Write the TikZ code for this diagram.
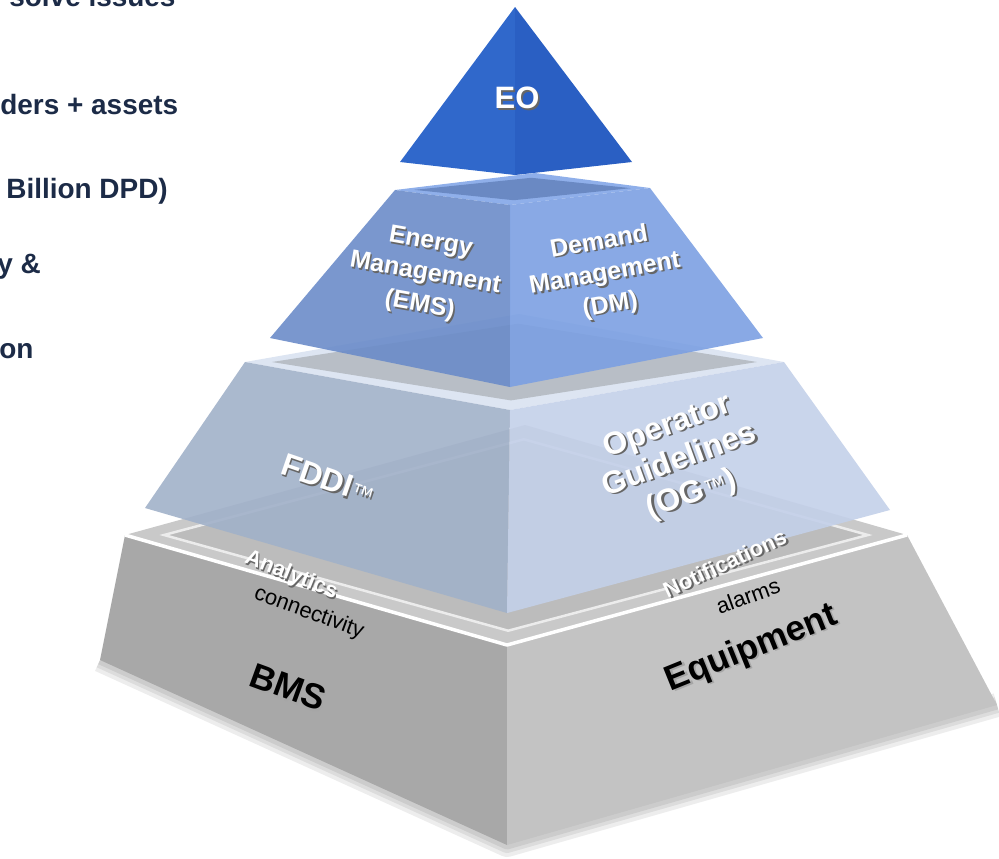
\documentclass[tikz,border=0pt]{standalone}
\usepackage{fontspec}
\setmainfont{Liberation Sans}
\usetikzlibrary{calc}

\definecolor{navytext}{HTML}{1C2B47}
\definecolor{eoL}{HTML}{3068CB}
\definecolor{eoR}{HTML}{2A5FC3}
\definecolor{emL}{HTML}{6B8CC9}
\definecolor{emR}{HTML}{7CA0E2}
\definecolor{emTop}{HTML}{8FAFEA}
\definecolor{emIn}{HTML}{6A89C3}
\definecolor{fdL}{HTML}{A1B1C9}
\definecolor{fdR}{HTML}{C3D0E9}
\definecolor{fdTop}{HTML}{DDE5F2}
\definecolor{fdIn}{HTML}{B8BEC6}
\definecolor{bmL}{HTML}{A8A8A8}
\definecolor{bmR}{HTML}{C3C3C3}
\definecolor{bmTop}{HTML}{C9C9C9}
\definecolor{bmIn}{HTML}{BCBCBC}

% text with a small drop shadow
\newcommand{\shd}[2][black!60]{\makebox[0pt][l]{\hspace{1pt}\raisebox{-1pt}{\textcolor{#1}{#2}}}#2}
\newcommand{\tmark}{{\mdseries\fontsize{13}{13}\selectfont ™}}

\begin{document}
\begin{tikzpicture}[x=0.2mm, y=-0.2mm,
    sidetext/.style={anchor=base west, inner sep=0, text=navytext, font=\bfseries\fontsize{15.9}{18}\selectfont},
    eotext/.style={text=white, inner sep=0, font=\bfseries\fontsize{17.6}{20}\selectfont},
    emtext/.style={text=white, align=center, inner sep=0, font=\bfseries\fontsize{14.2}{18.2}\selectfont},
    fdtext/.style={text=white, align=center, inner sep=0, font=\bfseries\fontsize{18}{20.5}\selectfont},
    rimtext/.style={text=white, inner sep=0, font=\bfseries\fontsize{12.5}{15}\selectfont},
    subtext/.style={text=black, inner sep=0, font=\fontsize{12.5}{15}\selectfont},
    basetext/.style={text=black, inner sep=0, font=\bfseries\fontsize{20}{22}\selectfont},
    tier/.style={fill opacity=0.9}]
    \useasboundingbox (0,0) rectangle (999,858);
    \clip (0,0) rectangle (999,858);

    % corners of the four blocks
    \coordinate (bTL) at (125,535); \coordinate (bTF) at (507,645);
    \coordinate (bTR) at (907,535); \coordinate (bTB) at (525,425);
    \coordinate (bBL) at (100,660); \coordinate (bBF) at (507,845);
    \coordinate (bBR) at (997,705);

    \coordinate (tTL) at (245,362); \coordinate (tTF) at (510,410);
    \coordinate (tTR) at (784,362); \coordinate (tTB) at (519,314);
    \coordinate (tBL) at (145,508); \coordinate (tBF) at (507,613);
    \coordinate (tBR) at (890,510);

    \coordinate (sTL) at (395,190); \coordinate (sTF) at (510,205);
    \coordinate (sTR) at (650,188); \coordinate (sTB) at (535,173);
    \coordinate (sBL) at (270,338); \coordinate (sBF) at (510,387);
    \coordinate (sBR) at (763,338);

    \coordinate (apex) at (515,7); \coordinate (eL) at (400,162);
    \coordinate (eF) at (515,175); \coordinate (eR) at (632,162);

    % left column
    \node[sidetext] (issues) at (9,6) {solve issues};
    \node[sidetext] (assets) at (0,114) {ders + assets};
    \node[sidetext] (dpd) at (6,198) {Billion DPD)};
    \node[sidetext] (amp) at (-3,273) {y \&};
    \node[sidetext] (on) at (-1,358) {on};

    % base block
    \foreach \w in {24,16,9}
        \draw[black, opacity=0.07, line width=\w*0.2mm, line join=round] (bBL) -- (bBF) -- (bBR);
    \fill[bmL] (bTL) -- (bTF) -- (bBF) -- (bBL) -- cycle;
    \fill[bmR] (bTF) -- (bTR) -- (bBR) -- (bBF) -- cycle;
    \fill[bmTop] (bTL) -- (bTF) -- (bTR) -- (bTB) -- cycle;
    \coordinate (bC) at ($(bTL)!0.5!(bTR)$);
    \filldraw[fill=bmIn, draw=white!85!gray, line width=0.5mm]
        ($(bC)!0.9!(bTL)$) -- ($(bC)!0.87!(bTF)$) -- ($(bC)!0.9!(bTR)$) -- ($(bC)!0.87!(bTB)$) -- cycle;
    \draw[white, line width=0.7mm, line join=round] (bTL) -- (bTF) -- (bTR);

    % FDDI block
    \fill[fdTop] (tTL) -- (tTF) -- (tTR) -- (tTB) -- cycle;
    \coordinate (tC) at ($(tTL)!0.5!(tTR)$);
    \fill[fdIn] ($(tC)!0.9!(tTL)$) -- ($(tC)!0.8!(tTF)$) -- ($(tC)!0.9!(tTR)$) -- ($(tC)!0.8!(tTB)$) -- cycle;
    \fill[fdL, tier] (tTL) -- (tTF) -- (tBF) -- (tBL) -- cycle;
    \fill[fdR, tier] (tTF) -- (tTR) -- (tBR) -- (tBF) -- cycle;

    % energy / demand block
    \fill[emTop] (sTL) -- (sTF) -- (sTR) -- (sTB) -- cycle;
    \coordinate (sC) at ($(sTL)!0.5!(sTR)$);
    \fill[emIn] ($(sC)!0.85!(sTL)$) -- ($(sC)!0.7!(sTF)$) -- ($(sC)!0.85!(sTR)$) -- ($(sC)!0.7!(sTB)$) -- cycle;
    \fill[emL, tier] (sTL) -- (sTF) -- (sBF) -- (sBL) -- cycle;
    \fill[emR, tier] (sTF) -- (sTR) -- (sBR) -- (sBF) -- cycle;

    % EO block
    \fill[eoL] (apex) -- (eL) -- (eF) -- cycle;
    \fill[eoR] (apex) -- (eF) -- (eR) -- cycle;

    % labels
    \node[eotext] (eo) at (517,99) {\shd{EO}};
    \node[emtext, rotate=-10] (ems) at (425,275) {\shd{Energy}\\\shd{Management}\\\shd{(EMS)}};
    \node[emtext, rotate=10] (dm) at (605,275) {\shd{Demand}\\\shd{Management}\\\shd{(DM)}};
    \node[fdtext, rotate=-19] (fddi) at (328,480) {\shd{FDDI\tmark}};
    \node[fdtext, rotate=20] (og) at (680,462) {\shd{Operator}\\\shd{Guidelines}\\\shd{(OG\tmark)}};
    \node[rimtext, rotate=-22] (analytics) at (291,576) {\shd{Analytics}};
    \node[subtext, rotate=-20] (conn) at (309,613) {connectivity};
    \node[rimtext, rotate=25] (notif) at (725,564) {\shd{Notifications}};
    \node[subtext, rotate=20] (alarms) at (748,596) {alarms};
    \node[basetext, rotate=-20] (bms) at (288,688) {\shd[black!35]{BMS}};
    \node[basetext, rotate=22] (equip) at (752,650) {\shd[black!35]{Equipment}};
\end{tikzpicture}
\end{document}
